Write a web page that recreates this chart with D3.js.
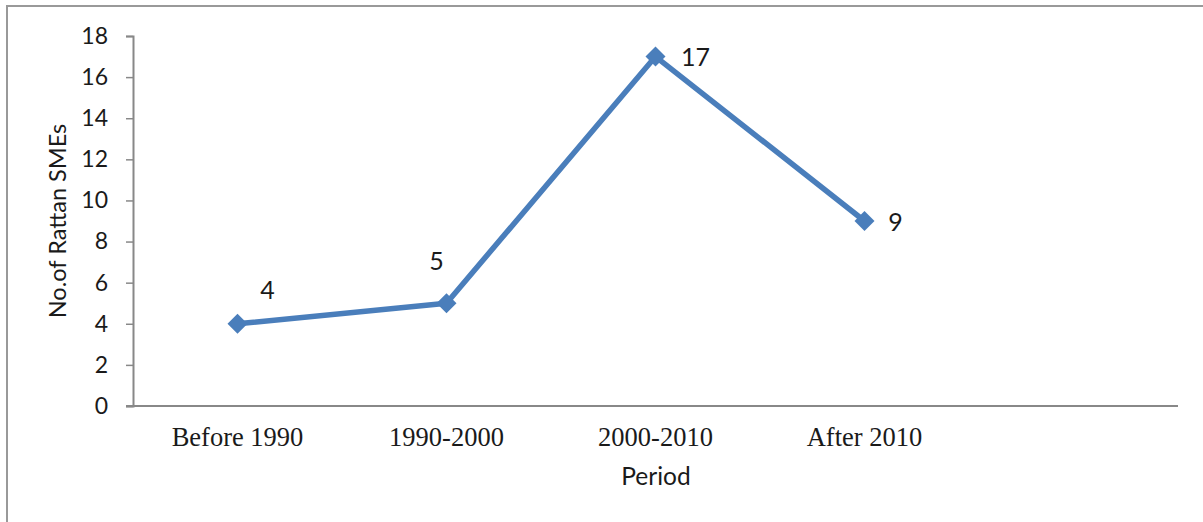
<!DOCTYPE html>
<html>
<head>
<meta charset="utf-8">
<script src="https://cdn.jsdelivr.net/npm/d3@7"></script>
<style>
  body { margin: 0; background: #fff; }
  svg { display: block; }
</style>
</head>
<body>
<div id="chart"></div>
<script>
// chart values
var categories = ["Before 1990", "1990-2000", "2000-2010", "After 2010"];
var smeCounts = [4, 5, 17, 9];
var yTicks = [0, 2, 4, 6, 8, 10, 12, 14, 16, 18];

// label placement (dx, dy from the marker), like the Excel data labels
var labelOffsets = [[30, -25], [-10, -33], [40, 9], [31, 10]];

var W = 1203, H = 522;
var plot = { left: 133, right: 1178, top: 36, bottom: 406 };

var svg = d3.select("#chart")
    .append("svg")
        .attr("width", W)
        .attr("height", H);

// outer chart frame (runs off the right/bottom edge)
svg.append("rect")
    .attr("x", 7)
    .attr("y", 6)
    .attr("width", W + 40)
    .attr("height", H + 40)
    .attr("fill", "none")
    .attr("stroke", "#999")
    .attr("stroke-width", 2);

// one empty slot after the last category, as in the original
var step = (plot.right - plot.left) / (categories.length + 1);
var x = d3.scaleBand()
    .domain(categories)
    .range([plot.left, plot.left + step * categories.length]);

var y = d3.scaleLinear()
    .domain([0, 18])
    .range([plot.bottom, plot.top]);

// y axis
var yAxis = d3.axisLeft(y)
    .tickValues(yTicks)
    .tickSize(7)
    .tickPadding(18);

var gy = svg.append("g")
    .attr("transform", "translate(" + plot.left + ",0)")
    .call(yAxis);
gy.select(".domain").attr("stroke", "#888").attr("stroke-width", 2);
gy.selectAll(".tick line").attr("stroke", "#888").attr("stroke-width", 1.5);
gy.selectAll(".tick text")
    .attr("fill", "#1a1a1a")
    .style("font-family", "Lato, 'Open Sans', sans-serif")
    .style("font-size", "23px");

// x axis
var xAxis = d3.axisBottom(x)
    .tickSize(0)
    .tickPadding(21);

var gx = svg.append("g")
    .attr("transform", "translate(0," + plot.bottom + ")")
    .call(xAxis);
gx.select(".domain").remove();
gx.selectAll(".tick text")
    .attr("fill", "#1a1a1a")
    .style("font-family", "'Liberation Serif', 'Times New Roman', serif")
    .style("font-size", "26.5px");

svg.append("line")
    .attr("x1", plot.left - 7)
    .attr("x2", plot.right)
    .attr("y1", plot.bottom)
    .attr("y2", plot.bottom)
    .attr("stroke", "#888")
    .attr("stroke-width", 2);

// axis titles
svg.append("text")
    .attr("transform", "translate(57," + (plot.top + plot.bottom) / 2 + ") rotate(-90)")
    .attr("text-anchor", "middle")
    .attr("dominant-baseline", "central")
    .attr("fill", "#1a1a1a")
    .style("font-family", "Lato, 'Open Sans', sans-serif")
    .style("font-size", "23.5px")
    .text("No.of Rattan SMEs");

svg.append("text")
    .attr("x", 656)
    .attr("y", 485)
    .attr("text-anchor", "middle")
    .attr("fill", "#1a1a1a")
    .style("font-family", "Lato, 'Open Sans', sans-serif")
    .style("font-size", "24.5px")
    .text("Period");

// series
var points = categories.map(function(c, i) {
    return { cat: c, value: smeCounts[i], off: labelOffsets[i] };
});

var line = d3.line()
    .x(function(d) { return x(d.cat) + x.bandwidth() / 2; })
    .y(function(d) { return y(d.value); });

svg.append("path")
    .datum(points)
    .attr("d", line)
    .attr("fill", "none")
    .attr("stroke", "#4A7EBB")
    .attr("stroke-width", 5.5)
    .attr("stroke-linejoin", "round");

svg.append("g").selectAll("path")
    .data(points)
    .enter().append("path")
    .attr("d", d3.symbol().type(d3.symbolSquare).size(200))
    .attr("transform", function(d) {
        return "translate(" + (x(d.cat) + x.bandwidth() / 2) + "," + y(d.value) + ") rotate(45)";
    })
    .attr("fill", "#4A7EBB");

svg.append("g").selectAll("text")
    .data(points)
    .enter().append("text")
    .attr("x", function(d) { return x(d.cat) + x.bandwidth() / 2 + d.off[0]; })
    .attr("y", function(d) { return y(d.value) + d.off[1]; })
    .attr("text-anchor", "middle")
    .attr("fill", "#1a1a1a")
    .style("font-family", "Lato, 'Open Sans', sans-serif")
    .style("font-size", "25px")
    .text(function(d) { return d.value; });
</script>
</body>
</html>
